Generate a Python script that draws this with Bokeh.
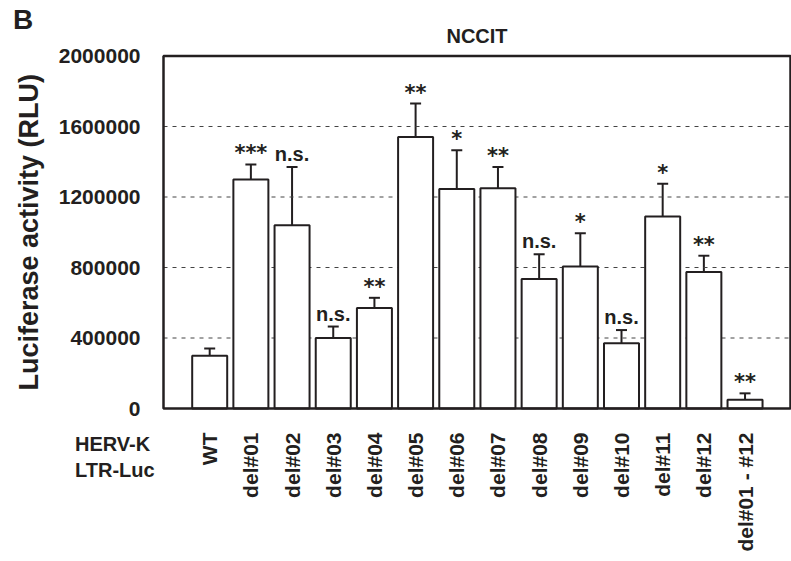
import math
from bokeh.plotting import figure
from bokeh.models import ColumnDataSource, Range1d, Whisker, TeeHead, Label
from bokeh.core.properties import value
from bokeh.embed import file_html
from bokeh.resources import INLINE

# ---- data ----
categories = ["WT", "del#01", "del#02", "del#03", "del#04", "del#05", "del#06",
              "del#07", "del#08", "del#09", "del#10", "del#11", "del#12", "del#01 - #12"]
means = [300000, 1300000, 1040000, 400000, 570000, 1540000, 1245000,
         1250000, 735000, 805000, 370000, 1090000, 775000, 50000]
errors = [40000, 85000, 330000, 65000, 58000, 190000, 220000,
          120000, 140000, 190000, 75000, 185000, 92000, 36000]
significance = ["", "***", "n.s.", "n.s.", "**", "**", "*",
                "**", "n.s.", "*", "n.s.", "*", "**", "**"]
y_ticks = [0, 400000, 800000, 1200000, 1600000, 2000000]
title_text = "NCCIT"
y_label = "Luciferase activity (RLU)"
panel_letter = "B"
row_labels = ["HERV-K", "LTR-Luc"]

# ---- layout constants (pixels of the 791x561 canvas) ----
W, H = 791, 561
CAT0_PX, CAT_STEP_PX = 209.2, 41.18      # centre of first category, spacing
Y0_PX, YMAX_PX = 408.0, 55.5             # pixel rows of y=0 and y=max tick
FRAME_L_PX, FRAME_R_PX = 163.0, 790.0

FONT = "Liberation Sans"
INK = "#231f20"

ymax = y_ticks[-1]
y_per_px = ymax / (Y0_PX - YMAX_PX)
x_range = Range1d(-CAT0_PX / CAT_STEP_PX, (W - CAT0_PX) / CAT_STEP_PX)
y_range = Range1d(-(H - Y0_PX) * y_per_px, ymax + YMAX_PX * y_per_px)
x_left = (FRAME_L_PX - CAT0_PX) / CAT_STEP_PX
x_right = (FRAME_R_PX - CAT0_PX) / CAT_STEP_PX

xs = list(range(len(categories)))
upper = [m + e for m, e in zip(means, errors)]
src = ColumnDataSource(dict(x=xs, cat=categories, mean=means, upper=upper))

p = figure(width=W, height=H, output_backend="svg", toolbar_location=None,
           x_range=x_range, y_range=y_range,
           x_axis_type=None, y_axis_type=None,
           min_border=0, min_border_left=0, min_border_right=0,
           min_border_top=0, min_border_bottom=0)
p.title.visible = False
p.grid.visible = False
p.background_fill_color = "white"
p.border_fill_color = "white"
p.outline_line_color = None

# dashed grid lines at inner ticks
grid_ticks = y_ticks[1:-1]
p.segment(x0=[x_left] * len(grid_ticks), x1=[x_right] * len(grid_ticks),
          y0=grid_ticks, y1=grid_ticks, line_color="#444444",
          line_width=1, line_dash="4 5")

# bars
p.vbar(x="x", top="mean", bottom=0, width=0.85, source=src,
       fill_color="white", line_color=INK, line_width=2)

# error bars (upper only)
p.add_layout(Whisker(source=src, base="x", lower="mean", upper="upper",
                     line_color=INK, line_width=2,
                     upper_head=TeeHead(size=11, line_color=INK, line_width=2),
                     lower_head=None))

# plot frame
p.quad(left=[x_left], right=[x_right], bottom=[y_ticks[0]], top=[ymax],
       fill_color=None, line_color=INK, line_width=2.5)

# y tick labels
p.text(x=[x_left] * len(y_ticks), y=y_ticks, text=[str(t) for t in y_ticks],
       x_offset=-23, text_align="right", text_baseline="middle",
       text_font=value(FONT), text_font_size="21px", text_font_style="bold",
       text_color=INK)

# x tick labels (vertical)
p.text(x="x", y=0, text="cat", source=src, angle=math.pi / 2,
       y_offset=24, text_align="right", text_baseline="middle",
       text_font=value(FONT), text_font_size="21px", text_font_style="bold",
       text_color=INK)

# significance labels
star_idx = [i for i, s in enumerate(significance) if s.startswith("*")]
ns_idx = [i for i, s in enumerate(significance) if s == "n.s."]
p.text(x=[xs[i] for i in star_idx], y=[upper[i] for i in star_idx],
       text=[significance[i] for i in star_idx], y_offset=-11,
       text_align="center", text_baseline="middle",
       text_font=value("DejaVu Sans"), text_font_size="21px",
       text_font_style="bold", text_color=INK)
p.text(x=[xs[i] for i in ns_idx], y=[upper[i] for i in ns_idx],
       text=[significance[i] for i in ns_idx], y_offset=-13,
       text_align="center", text_baseline="middle",
       text_font=value(FONT), text_font_size="20px",
       text_font_style="bold", text_color=INK)

# text outside the data area (screen units: x from left, y from bottom)
def add_label(txt, cx, cy, size, align="left", angle=0.0):
    p.add_layout(Label(x=cx, y=H - cy, x_units="screen", y_units="screen",
                       text=txt, angle=angle, text_align=align,
                       text_baseline="middle", text_font=FONT,
                       text_font_size=size, text_font_style="bold",
                       text_color=INK))

add_label(title_text, (FRAME_L_PX + FRAME_R_PX) / 2, 35.5, "20px", align="center")
add_label(panel_letter, 12.5, 18.5, "28px")
add_label(row_labels[0], 74.5, 443, "20px")
add_label(row_labels[1], 74.5, 469.7, "20px")
add_label(y_label, 28.5, (Y0_PX + YMAX_PX) / 2, "27px", align="center",
          angle=math.pi / 2)

open("out.html", "w").write(file_html(p, INLINE))
